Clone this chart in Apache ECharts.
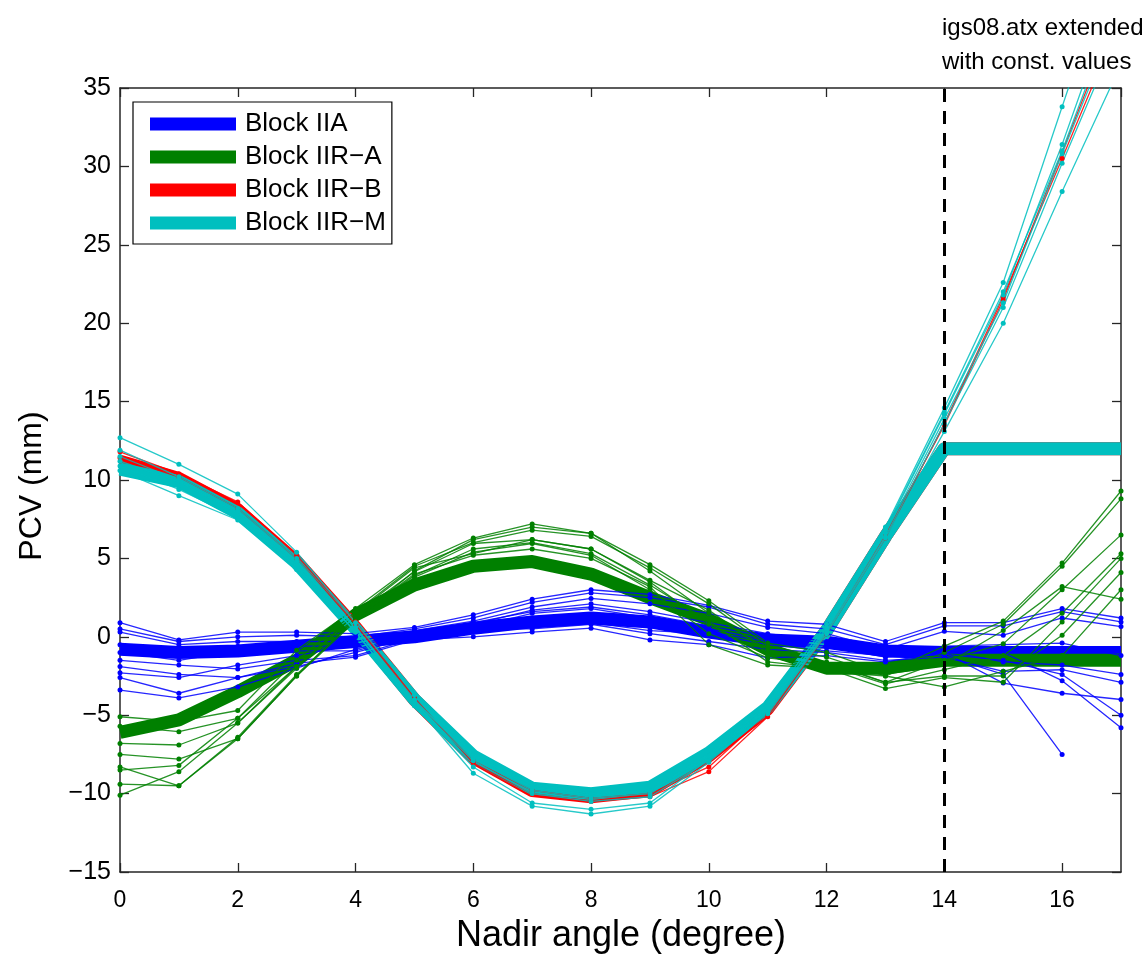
<!DOCTYPE html>
<html>
<head>
<meta charset="utf-8">
<script src="https://cdn.jsdelivr.net/npm/echarts@6/dist/echarts.min.js"></script>
<style>
html,body{margin:0;padding:0;background:#fff;}
#chart{width:1146px;height:958px;}
</style>
</head>
<body>
<div id="chart"></div>
<script>
// Nadir angles (degree)
const nadir = [0,1,2,3,4,5,6,7,8,9,10,11,12,13,14,15,16,17];

// igs08.atx mean PCV (extended with constant values beyond 14 deg)
const iiaMean  = [-0.8,-1.0,-0.9,-0.6,-0.3,0.0,0.55,0.95,1.2,0.95,0.3,-0.2,-0.35,-0.9,-1.0,-1.0,-1.0,-1.0];
const iirAMean = [-6.1,-5.3,-3.5,-1.5,1.4,3.3,4.5,4.8,4.0,2.5,1.1,-0.8,-2.0,-2.0,-1.5,-1.5,-1.5,-1.5];
const iirBMean = [11.2,10.1,8.1,4.8,0.6,-4.0,-7.7,-9.8,-10.2,-9.8,-7.6,-4.6,0.4,6.4,12.0,12.0,12.0,12.0];
const iirMMean = [10.7,9.9,7.9,4.7,0.5,-4.0,-7.6,-9.65,-10.0,-9.6,-7.4,-4.5,0.4,6.4,12.0,12.0,12.0,12.0];

// Individual satellites, Block IIA
const iiaSats = [
  [0.9,-0.2,0.3,0.3,0.2,0.6,1.4,2.4,3.0,2.7,2.0,1.0,0.8,-0.3,0.9,0.9,1.8,1.2],
  [0.5,-0.3,0.0,0.1,0.0,0.5,1.2,2.2,2.8,2.5,1.9,0.8,0.5,-0.5,0.7,0.7,1.6,0.95],
  [0.3,-0.5,-0.3,-0.3,-0.3,0.4,1.0,1.9,2.45,2.1,1.5,0.6,0.2,-0.8,0.35,0.1,1.2,0.65],
  [-0.5,-1.2,-0.6,-0.6,-0.6,0.2,0.8,1.7,2.1,1.6,0.9,0.2,-0.3,-1.1,-0.6,-0.5,-0.4,-1.2],
  [-1.0,-1.5,-0.9,-0.9,-0.9,0.1,0.6,1.5,1.8,1.2,0.5,-0.2,-0.6,-1.3,-0.9,-1.6,-1.8,-2.4],
  [-1.5,-1.8,-2.05,-1.5,-1.2,-0.1,0.5,0.5,0.8,0.2,-0.3,-0.8,-1.0,-1.5,-1.3,-2.2,-2.1,-2.9],
  [-1.9,-2.4,-2.6,-1.7,-1.3,-0.2,0.0,0.3,0.55,-0.2,-0.5,-1.35,-1.2,-1.6,-1.0,-2.95,-3.6,-4.0],
  [-2.6,-3.6,-2.6,-1.9,-1.0,0.0,0.3,0.6,0.9,0.4,0.2,-0.5,-0.9,-1.2,-1.1,-1.5,-2.4,-5.0],
  [-3.4,-3.9,-3.2,-2.0,-0.8,0.2,0.4,0.8,1.0,0.6,0.3,-0.3,-0.7,-1.0,-1.2,-2.4,-7.5,null],
  [-2.3,-2.6,-1.8,-1.2,-0.5,0.3,0.9,1.6,1.9,1.4,0.7,0.0,-0.4,-0.9,-0.8,-1.0,-2.8,-5.8]
];
// Block IIR-A
const iirASats = [
  [-5.1,-5.4,-4.7,-0.85,1.8,4.6,6.3,7.2,6.6,4.6,2.3,-0.4,-1.0,-2.3,-0.6,1.0,4.7,9.3],
  [-5.7,-6.05,-5.2,-1.5,1.6,4.5,6.0,6.8,6.4,4.4,2.1,-0.6,-1.3,-2.5,-1.0,0.8,4.5,8.8],
  [-6.8,-6.9,-5.5,-1.9,1.4,4.15,5.95,6.2,5.6,3.6,1.7,-1.0,-1.6,-2.9,-1.5,-0.45,3.0,6.5],
  [-7.5,-7.8,-6.5,-2.5,1.0,3.8,5.4,5.95,5.2,3.0,0.2,-1.35,-1.8,-3.0,-2.1,-1.2,1.5,5.3],
  [-8.5,-8.2,-5.2,-1.9,1.2,4.0,5.2,5.6,5.0,3.2,-0.5,-1.8,-2.0,-3.3,-2.6,-2.9,0.95,5.0],
  [-9.4,-9.5,-6.4,-2.4,1.1,4.2,6.2,7.0,6.6,4.2,1.5,-0.8,-1.7,-2.9,-2.5,-2.5,0.1,4.1],
  [-10.1,-8.6,-5.5,-2.0,1.5,4.4,5.3,6.2,5.6,3.5,0.8,-1.2,-2.2,-2.5,-3.2,-2.2,-1.2,3.0],
  [-8.3,-9.5,-6.5,-2.5,1.2,3.9,5.6,6.0,5.3,3.3,1.0,-1.6,-2.0,-2.4,-1.8,0.4,3.2,2.4]
];
// Block IIR-B
const iirBSats = [
  [11.8,10.4,8.6,5.2,0.95,-3.9,-8.05,-10.0,-10.5,-10.2,-8.6,-5.1,0.2,6.3,13.6,21.7,30.5,39.5],
  [11.4,10.2,8.2,5.0,0.8,-4.0,-7.9,-9.8,-10.3,-10.0,-8.3,-4.9,0.3,6.5,13.5,21.5,30.9,40.5]
];
// Block IIR-M
const iirMSats = [
  [12.7,11.0,9.1,5.4,0.9,-3.7,-7.5,-9.6,-10.1,-9.8,-7.5,-4.3,0.8,7.0,14.6,22.6,33.8,45.0],
  [11.9,10.2,8.2,5.0,0.6,-4.0,-7.8,-9.8,-10.3,-10.0,-7.7,-4.6,0.5,6.8,14.2,21.8,31.4,42.0],
  [11.2,9.9,7.9,4.7,0.5,-4.2,-7.9,-10.0,-10.5,-10.2,-7.9,-4.8,0.4,6.6,13.9,21.3,30.8,40.0],
  [10.9,9.4,7.6,4.5,0.3,-4.3,-8.7,-10.8,-11.3,-10.8,-8.0,-4.8,0.3,6.4,13.6,21.0,30.2,39.0],
  [10.6,9.0,7.45,4.3,0.3,-4.4,-8.3,-10.6,-11.0,-10.6,-7.8,-4.9,0.2,6.3,13.1,20.0,28.4,36.5],
  [11.5,10.0,8.0,4.8,0.6,-4.1,-7.6,-9.4,-10.0,-9.8,-7.6,-4.5,0.6,6.9,14.3,22.0,31.0,41.0]
];

const blockNames = ['Block IIA','Block IIR\u2212A','Block IIR\u2212B','Block IIR\u2212M'];
const blockColors = ['#0000FF','#008000','#FF0000','#00BFBF'];
const igsEdge = 14;
const annotationLines = ['igs08.atx extended','with const. values'];

const FONT = "'Liberation Sans', Arial, Helvetica, sans-serif";
const minus = v => String(v).replace('-', '\u2212');

function pairs(vals){ return nadir.map((x,i)=>[x, vals[i]]); }

function thick(name, vals, color){
  return {
    type:'line', name, data:pairs(vals), showSymbol:false, symbol:'none',
    lineStyle:{color, width:13, join:'round', cap:'butt'},
    itemStyle:{color}, z:2, silent:true
  };
}
function thin(name, vals, color){
  return {
    type:'line', name, data:pairs(vals), symbol:'circle', symbolSize:5, showSymbol:true,
    lineStyle:{color, width:1.3, opacity:0.85},
    itemStyle:{color, borderWidth:0}, z:3, silent:true
  };
}

const series = [
  thick(blockNames[0], iiaMean, blockColors[0]),
  thick(blockNames[1], iirAMean, blockColors[1]),
  thick(blockNames[2], iirBMean, blockColors[2]),
  thick(blockNames[3], iirMMean, blockColors[3])
];
iiaSats.forEach((v,i)=>series.push(thin('iia'+i, v, blockColors[0])));
iirASats.forEach((v,i)=>series.push(thin('iira'+i, v, blockColors[1])));
iirBSats.forEach((v,i)=>series.push(thin('iirb'+i, v, blockColors[2])));
iirMSats.forEach((v,i)=>series.push(thin('iirm'+i, v, blockColors[3])));
series.push({
  type:'line', name:'igsEdge', data:[], silent:true, z:5,
  markLine:{
    silent:true, symbol:['none','none'], label:{show:false}, animation:false,
    lineStyle:{color:'#000', width:3, type:[13,9]},
    data:[{xAxis:igsEdge}]
  }
});

const axisLine = {show:true, onZero:false, lineStyle:{color:'#262626', width:1.5}};
const tick = {show:true, inside:true, length:9, lineStyle:{color:'#262626', width:1.3}};

const option = {
  animation:false,
  backgroundColor:'#fff',
  grid:{left:120, right:25, top:88, bottom:86},
  legend:{
    data:blockNames, orient:'vertical', left:133, top:102,
    icon:'rect', itemWidth:86, itemHeight:13, itemGap:7,
    padding:[9,6,8,17],
    backgroundColor:'#fff', borderColor:'#000', borderWidth:1.2,
    itemStyle:{borderWidth:0},
    textStyle:{fontFamily:FONT, fontSize:26, color:'#000', padding:[0,0,0,4]},
    selectedMode:false
  },
  xAxis:[
    {type:'value', min:0, max:17, interval:2, position:'bottom',
     axisLine, axisTick:tick, splitLine:{show:false},
     axisLabel:{fontFamily:FONT, fontSize:23, color:'#000', margin:17, showMaxLabel:false, formatter:minus}},
    {type:'value', min:0, max:17, interval:2, position:'top',
     axisLine, axisTick:tick, splitLine:{show:false}, axisLabel:{show:false}}
  ],
  yAxis:[
    {type:'value', min:-15, max:35, interval:5, position:'left',
     axisLine, axisTick:tick, splitLine:{show:false},
     axisLabel:{fontFamily:FONT, fontSize:25, color:'#000', margin:9, formatter:minus}},
    {type:'value', min:-15, max:35, interval:5, position:'right',
     axisLine, axisTick:tick, splitLine:{show:false}, axisLabel:{show:false}}
  ],
  graphic:[
    {type:'text', x:621, y:936, silent:true,
     style:{text:'Nadir angle (degree)', fontFamily:FONT, fontSize:36, fill:'#000', textAlign:'center', textVerticalAlign:'middle'}},
    {type:'text', x:32, y:486, rotation:Math.PI/2, silent:true,
     style:{text:'PCV (mm)', fontFamily:FONT, fontSize:32, fill:'#000', textAlign:'center', textVerticalAlign:'middle'}},
    {type:'text', x:942, y:28, silent:true,
     style:{text:annotationLines[0], fontFamily:FONT, fontSize:24, fill:'#000', textAlign:'left', textVerticalAlign:'middle'}},
    {type:'text', x:942, y:62, silent:true,
     style:{text:annotationLines[1], fontFamily:FONT, fontSize:24, fill:'#000', textAlign:'left', textVerticalAlign:'middle'}}
  ],
  series
};

const chart = echarts.init(document.getElementById('chart'), null, {renderer:'canvas'});
chart.setOption(option);
</script>
</body>
</html>
